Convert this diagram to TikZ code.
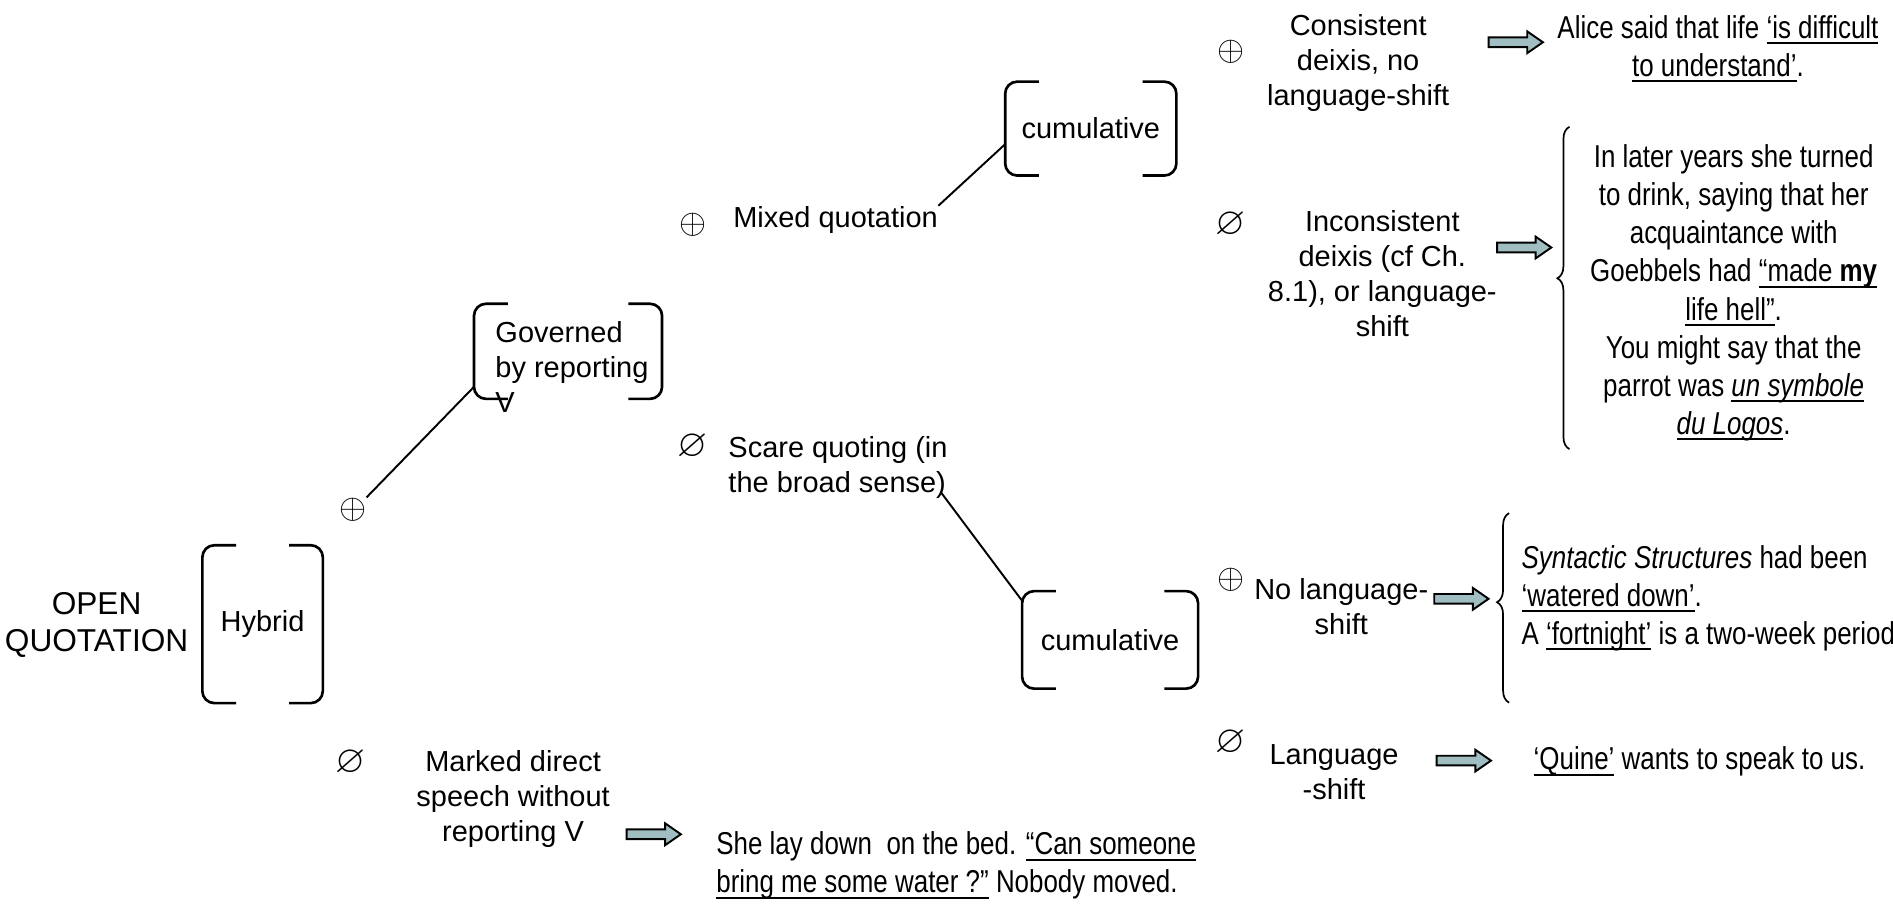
\documentclass[tikz,border=0pt]{standalone}
\usepackage{amssymb}
\usepackage{fontspec}
\setmainfont{Liberation Sans}
\newfontfamily\narrowfont[FakeStretch=0.82]{Liberation Sans}
\usetikzlibrary{decorations.pathreplacing}
\definecolor{arrowfill}{RGB}{160,190,193}
\newcommand{\undl}[1]{\leavevmode\setbox0=\hbox{#1}\rlap{\rule[-2.4pt]{\wd0}{0.8pt}}\box0\relax}

\begin{document}
\begin{tikzpicture}[x=0.5pt,y=-0.5pt]
	\tikzset{lbl/.style={inner sep=0pt,align=center,font=\fontsize{12}{14.5}\selectfont}}
	\tikzset{big/.style={lbl,font=\fontsize{13.1}{15.5}\selectfont}}
	\tikzset{ex/.style={inner sep=0pt,align=center,font=\narrowfont\fontsize{13.1}{15.8}\selectfont}}
	\tikzset{sym/.style={inner sep=0pt,font=\fontsize{15}{16}\selectfont}}
	\tikzset{nul/.style={inner sep=0pt,font=\fontsize{16}{17}\selectfont}}
	\tikzset{brkline/.style={line width=1.1pt,rounded corners=5pt}}
	\tikzset{brkt/.style={lbl,append after command={\pgfextra{
		\draw[brkline] ([xshift=14pt]\tikzlastnode.north west) -- (\tikzlastnode.north west) -- (\tikzlastnode.south west) -- ([xshift=14pt]\tikzlastnode.south west)
		([xshift=-14pt]\tikzlastnode.north east) -- (\tikzlastnode.north east) -- (\tikzlastnode.south east) -- ([xshift=-14pt]\tikzlastnode.south east);}}}}
	\tikzset{link/.style={line width=0.8pt}}
	\tikzset{brc/.style={decorate,decoration={brace,amplitude=5pt,aspect=0.53},line width=0.7pt}}
	\tikzset{fatarrow/.pic={\draw[line width=0.8pt,fill=arrowfill] (0,-4) -- (32,-4) -- (32,-9) -- (45,0) -- (32,9) -- (32,4) -- (0,4) -- cycle;}}

	\useasboundingbox (0,0) rectangle (1568,752);
	\fill[white] (0,0) rectangle (1568,752);

	% root
	\node[big] (open) at (80,517.5) {OPEN\\QUOTATION};
	\node[brkt,minimum width=49.5pt,minimum height=65pt] (hyb) at (217.5,517) {Hybrid};

	% governed by reporting V
	\node[sym] (plusgov) at (292,422) {$\oplus$};
	\node[brkt,minimum width=77.5pt,minimum height=39pt] (gov) at (470.5,291) {};
	\node[lbl,align=left,anchor=west] (govtxt) at (410,304) {Governed\\by reporting\\V};
	\draw[link] (plusgov.north east) -- ([yshift=5pt]gov.south west);

	% marked direct speech
	\node[nul] (emptymarked) at (290,632) {$\varnothing$};
	\node[lbl] (marked) at (425,662) {Marked direct\\speech without\\reporting V};
	\pic at (519,691) {fatarrow};
	\node[ex,align=left,anchor=west] (shelay) at (593,717) {She lay down\ \ on the bed. \undl{“Can someone}\\\undl{bring me some water ?”} Nobody moved.};

	% mixed quotation
	\node[sym] (plusmixed) at (574,186) {$\oplus$};
	\node[lbl,anchor=west] (mixed) at (607,182) {Mixed quotation};
	\node[brkt,minimum width=70.5pt,minimum height=38.5pt] (cumtop) at (903.5,106.5) {cumulative};
	\draw[link] (mixed.north east) -- ([yshift=13pt]cumtop.south west);

	% scare quoting
	\node[nul] (emptyscare) at (574,370) {$\varnothing$};
	\node[lbl,align=left,anchor=west] (scare) at (603,387.5) {Scare quoting (in\\the broad sense)};
	\node[brkt,minimum width=72.5pt,minimum height=40pt] (cumlow) at (919.5,530) {cumulative};
	\draw[link] ([xshift=-3pt,yshift=3pt]scare.south east) -- ([yshift=-4pt]cumlow.north west);

	% consistent deixis
	\node[sym] (pluscons) at (1020,43) {$\oplus$};
	\node[lbl] (cons) at (1125,52) {Consistent\\deixis, no\\language-shift};
	\pic at (1233,35) {fatarrow};
	\node[ex] (alice) at (1423,40.5) {Alice said that life \undl{‘is difficult}\\\undl{to understand’}.};

	% inconsistent deixis
	\node[nul] (emptyincons) at (1019,186) {$\varnothing$};
	\node[lbl] (incons) at (1145,227) {Inconsistent\\deixis (cf Ch.\\8.1), or language-\\shift};
	\pic at (1240,205) {fatarrow};
	\draw[brc] (1300,372) -- (1300,105);
	\node[ex] (goebbels) at (1436,242.5) {In later years she turned\\to drink, saying that her\\acquaintance with\\Goebbels had \undl{“made \textbf{my}}\\\undl{life hell”}.\\You might say that the\\parrot was \undl{\textit{un symbole}}\\\undl{\textit{du Logos}}.};

	% no language-shift
	\node[sym] (plusnols) at (1020,480) {$\oplus$};
	\node[lbl] (nols) at (1111,502.5) {No language-\\shift};
	\pic at (1188,496) {fatarrow};
	\draw[brc] (1250,582) -- (1250,425);
	\node[ex,align=left,anchor=west] (syntactic) at (1260,495.5) {\textit{Syntactic Structures} had been\\\undl{‘watered down’}.\\A \undl{‘fortnight’} is a two-week period};

	% language-shift
	\node[nul] (emptyls) at (1019,615) {$\varnothing$};
	\node[lbl] (ls) at (1105,639.5) {Language\\-shift};
	\pic at (1190,630) {fatarrow};
	\node[ex,anchor=west] (quine) at (1270,631) {\undl{‘Quine’} wants to speak to us.};
\end{tikzpicture}
\end{document}
